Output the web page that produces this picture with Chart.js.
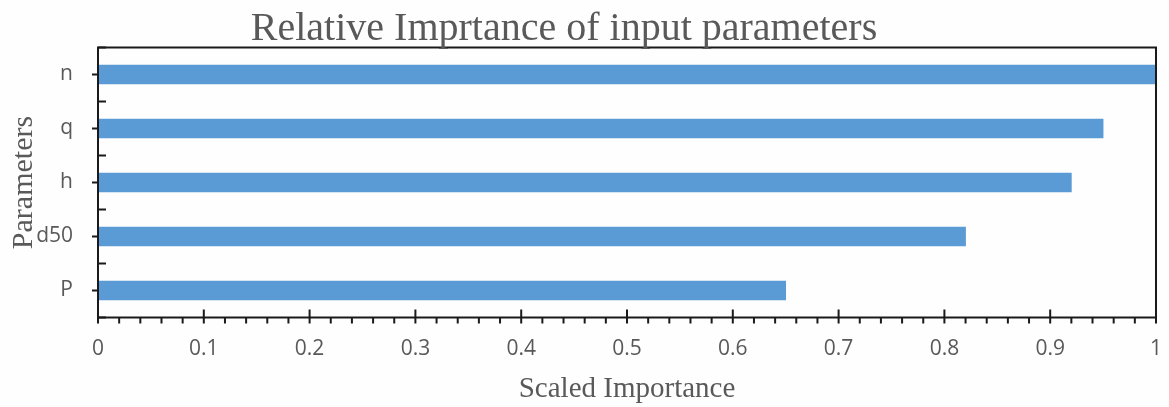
<!DOCTYPE html>
<html>
<head>
<meta charset="utf-8">
<script src="https://cdn.jsdelivr.net/npm/chart.js@4/dist/chart.umd.min.js"></script>
<style>
  html, body { margin: 0; padding: 0; background: #fefefe; }
  #wrap { width: 1169px; height: 407px; position: relative; }
</style>
</head>
<body>
<div id="wrap"><canvas id="grafico"></canvas></div>
<script>
// Datos del gráfico
const parametros = ['n', 'q', 'h', 'd50', 'P'];
const importancia = [1.0, 0.95, 0.92, 0.82, 0.65];
const tituloGrafico = 'Relative Imprtance of input parameters';
const tituloX = 'Scaled Importance';
const tituloY = 'Parameters';

const grisTexto = '#595959';
const colorBarra = '#5B9BD5';

// Plugin: título, bordes y marcas de los ejes
const marcasEjes = {
    id: 'marcasEjes',
    afterDatasetsDraw(chart) {
        const ctx = chart.ctx;
        const area = chart.chartArea;
        const xs = chart.scales.x;
        const ys = chart.scales.y;
        ctx.save();

        // Bordes del área
        ctx.strokeStyle = '#1a1a1a';
        ctx.lineWidth = 2;
        ctx.beginPath();
        ctx.moveTo(area.left, area.top);
        ctx.lineTo(area.right, area.top);
        ctx.lineTo(area.right, area.bottom);
        ctx.lineTo(area.left, area.bottom);
        ctx.closePath();
        ctx.stroke();

        // Marcas eje X: menores hacia fuera, mayores hacia dentro
        for (let i = 0; i <= 50; i++) {
            const x = xs.getPixelForValue(i / 50);
            ctx.beginPath();
            ctx.moveTo(x, area.bottom);
            ctx.lineTo(x, area.bottom + 6);
            ctx.stroke();
            if (i % 5 === 0) {
                ctx.beginPath();
                ctx.moveTo(x, area.bottom);
                ctx.lineTo(x, area.bottom - 8);
                ctx.stroke();
            }
        }

        // Marcas eje Y: centros hacia fuera, límites hacia dentro
        const centros = parametros.map((p, i) => ys.getPixelForValue(i));
        centros.forEach(y => {
            ctx.beginPath();
            ctx.moveTo(area.left - 6, y);
            ctx.lineTo(area.left, y);
            ctx.stroke();
        });
        for (let i = 1; i < centros.length; i++) {
            const y = (centros[i - 1] + centros[i]) / 2;
            ctx.beginPath();
            ctx.moveTo(area.left, y);
            ctx.lineTo(area.left + 8, y);
            ctx.stroke();
        }
        [area.top, area.bottom].forEach(y => {
            ctx.beginPath();
            ctx.moveTo(area.left, y);
            ctx.lineTo(area.left + 8, y);
            ctx.stroke();
        });

        // Título principal
        ctx.fillStyle = grisTexto;
        ctx.font = "40px 'Liberation Serif', serif";
        ctx.textAlign = 'center';
        ctx.textBaseline = 'alphabetic';
        ctx.fillText(tituloGrafico, 564, 40);
        ctx.restore();
    }
};

const ctx = document.getElementById('grafico').getContext('2d');
new Chart(ctx, {
    type: 'bar',
    data: {
        labels: parametros,
        datasets: [{
            data: importancia,
            backgroundColor: colorBarra,
            borderWidth: 0,
            barThickness: 19
        }]
    },
    options: {
        indexAxis: 'y',
        responsive: true,
        maintainAspectRatio: false,
        animation: false,
        layout: {
            padding: { top: 47.5, right: 13, bottom: 0, left: 0 }
        },
        plugins: {
            legend: { display: false },
            tooltip: { enabled: false },
            title: { display: false }
        },
        scales: {
            x: {
                min: 0,
                max: 1,
                ticks: {
                    stepSize: 0.1,
                    color: grisTexto,
                    padding: 19,
                    font: { family: "'Open Sans', sans-serif", size: 21 },
                    callback: function(value) {
                        return String(Math.round(value * 10) / 10);
                    }
                },
                grid: { display: false, drawTicks: false },
                border: { display: false },
                title: {
                    display: true,
                    text: tituloX,
                    color: grisTexto,
                    font: { family: "'Liberation Serif', serif", size: 29 },
                    padding: { top: 0, bottom: 0 }
                },
                afterFit(scale) {
                    scale.height = 89.5;
                    scale.paddingLeft = 0;
                    scale.paddingRight = 0;
                }
            },
            y: {
                ticks: {
                    color: grisTexto,
                    padding: 25,
                    font: { family: "'Open Sans', sans-serif", size: 21 }
                },
                grid: { display: false, drawTicks: false },
                border: { display: false },
                title: {
                    display: true,
                    text: tituloY,
                    color: grisTexto,
                    font: { family: "'Liberation Serif', serif", size: 30 },
                    padding: { top: 6, bottom: 0 }
                },
                afterFit(scale) {
                    scale.width = 98;
                    scale.paddingTop = 0;
                    scale.paddingBottom = 0;
                }
            }
        }
    },
    plugins: [marcasEjes]
});
</script>
</body>
</html>
